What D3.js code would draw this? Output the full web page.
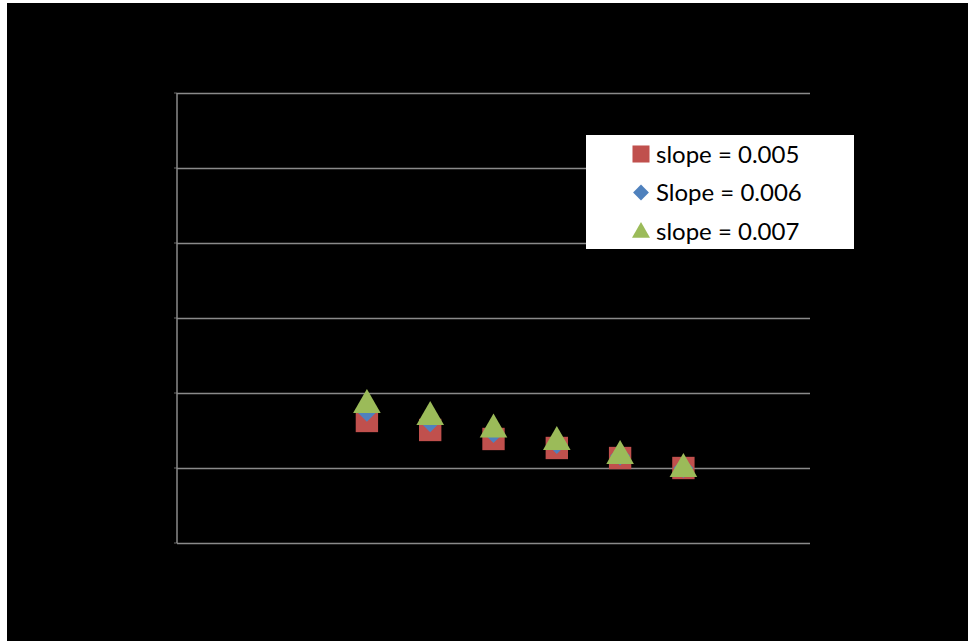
<!DOCTYPE html>
<html>
<head>
<meta charset="utf-8">
<script src="https://cdn.jsdelivr.net/npm/d3@7/dist/d3.min.js"></script>
<style>
  html, body { margin: 0; padding: 0; background: #ffffff; }
  svg { display: block; }
</style>
</head>
<body>
<svg id="chart" width="968" height="641"></svg>
<script>
// Chart data: x positions and normalised values for three slope settings
const xValues = [3, 4, 5, 6, 7, 8];
const slope005 = [1.627, 1.507, 1.387, 1.267, 1.133, 1.0];
const slope006 = [1.75, 1.61, 1.465, 1.32, 1.165, 1.0];
const slope007 = [1.867, 1.707, 1.54, 1.373, 1.187, 1.013];
const seriesNames = ["slope = 0.005", "Slope = 0.006", "slope = 0.007"];
const yTicks = [0, 1, 2, 3, 4, 5, 6];

const colors = ["#C0504D", "#4F81BD", "#9BBB59"];
// square, diamond (square turned 45°), triangle
const symbols = [d3.symbolSquare, d3.symbolSquare, d3.symbolTriangle];
const rotations = [0, 45, 0];

const svg = d3.select("#chart");

// black chart area
svg.append("rect").attr("x", 7).attr("y", 3).attr("width", 961).attr("height", 638).attr("fill", "#000");

const x = d3.scaleLinear().domain([0, 10]).range([177, 810]);
const y = d3.scaleLinear().domain([0, 6]).range([543, 93]);

// horizontal gridlines
const yAxis = d3.axisLeft(y).tickValues(yTicks).tickSize(-(810 - 177)).tickFormat("");
const gy = svg.append("g").attr("transform", `translate(177,0)`).call(yAxis);
gy.select(".domain").remove();
gy.selectAll(".tick line").attr("stroke", "#8a8a8a").attr("stroke-width", 1.5);

// small outer ticks on the value axis
svg.append("g").selectAll("line").data(yTicks).join("line")
  .attr("x1", 174).attr("x2", 177)
  .attr("y1", d => y(d)).attr("y2", d => y(d))
  .attr("stroke", "#6a6a6a").attr("stroke-width", 1);

// vertical value axis line
svg.append("line")
  .attr("x1", 177).attr("x2", 177).attr("y1", y(6)).attr("y2", y(0))
  .attr("stroke", "#8a8a8a").attr("stroke-width", 1.5);

// markers
const allSeries = [slope005, slope006, slope007];
const sizes = [500, 200, 330];
allSeries.forEach((vals, i) => {
  const sym = d3.symbol().type(symbols[i]).size(sizes[i]);
  svg.append("g").selectAll("path").data(vals).join("path")
    .attr("d", sym)
    .attr("transform", (d, j) => `translate(${x(xValues[j])},${y(d) + (i === 2 ? 2 : 0)}) rotate(${rotations[i]})`)
    .attr("fill", colors[i]);
});

// legend
const lg = svg.append("g");
lg.append("rect").attr("x", 586).attr("y", 135).attr("width", 268).attr("height", 114).attr("fill", "#fff");
const legendSizes = [290, 125, 140];
seriesNames.forEach((name, i) => {
  const cy = 154 + i * 38.5;
  lg.append("path")
    .attr("d", d3.symbol().type(symbols[i]).size(legendSizes[i])())
    .attr("transform", `translate(${641},${cy + (i === 2 ? 1.5 : 0)}) rotate(${rotations[i]})`)
    .attr("fill", colors[i]);
  lg.append("text")
    .attr("x", 656).attr("y", cy)
    .attr("dy", "0.36em")
    .attr("font-family", "Lato, 'Open Sans', sans-serif")
    .attr("font-size", 24)
    .attr("fill", "#000")
    .text(name);
});
</script>
</body>
</html>
